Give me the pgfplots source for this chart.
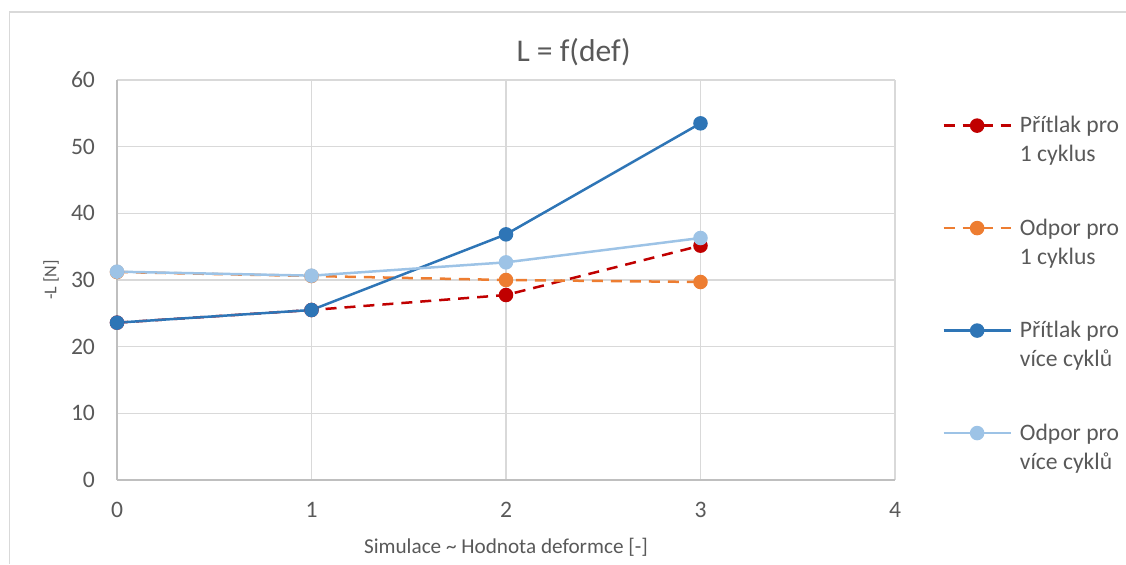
\documentclass[border=0pt]{standalone}
\usepackage{fontspec}
\setmainfont{Carlito}
\usepackage{pgfplots}
\pgfplotsset{compat=1.18}
\definecolor{cRed}{HTML}{C00000}
\definecolor{cOrange}{HTML}{ED7D31}
\definecolor{cBlue}{HTML}{2E75B6}
\definecolor{cLBlue}{HTML}{9DC3E6}
\definecolor{cGrid}{HTML}{D9D9D9}
\definecolor{cAxis}{HTML}{BFBFBF}
\definecolor{cText}{HTML}{595959}
\begin{document}
\begin{tikzpicture}
\useasboundingbox (0,0) rectangle (563pt,282pt);
\draw[cGrid, line width=0.6pt] (4.75pt,0) -- (4.75pt,276pt) -- (563pt,276pt);
\begin{axis}[
  at={(58.5pt,42pt)}, anchor=south west,
  scale only axis, width=389pt, height=200pt,
  xmin=0, xmax=4, ymin=0, ymax=60,
  xtick={0,1,2,3,4}, ytick={0,10,20,30,40,50,60},
  grid=major, major grid style={cGrid, line width=0.75pt},
  axis x line*=bottom, axis y line*=left,
  axis line style={-, cAxis, line width=0.75pt},
  major tick length=0pt,
  /pgf/number format/assume math mode=true,
  tick label style={font=\fontsize{11.8}{14}\selectfont, text=cText},
  xticklabel style={yshift=-7.5pt},
  yticklabel style={xshift=-7.5pt},
  xlabel={Simulace \textasciitilde{} Hodnota deformce [-]},
  xlabel style={at={(axis description cs:0.5,0)}, anchor=center, yshift=-33.5pt, font=\fontsize{10.6}{12}\selectfont, text=cText},
  ylabel={-L [N]},
  ylabel style={at={(axis description cs:-0.0848,0.5)}, anchor=center, font=\fontsize{9}{11}\selectfont, text=cText},
  title={L = f(def)},
  title style={at={(axis description cs:0.587,1.06)}, anchor=center, yshift=-4pt, font=\fontsize{15.8}{18}\selectfont, text=cText},
  legend style={at={(axis description cs:1.0527,0.93)}, anchor=north west, draw=none, fill=none,
    font=\fontsize{11.8}{14.5}\selectfont, text=cText, row sep=23.05pt, cells={align=left}},
  legend cell align=left,
  legend image code/.code={\draw[mark repeat=2,mark phase=2,#1] plot coordinates {(0pt,7.5pt)(16.75pt,7.5pt)(33.5pt,7.5pt)};
    \path (35.5pt,7.5pt);},
]
\addplot[cRed, line width=1.25pt, dash pattern=on 5.5pt off 4pt, mark=*, mark size=3pt, mark options={solid, fill=cRed, draw=cRed}]
  coordinates {(0,23.6)(1,25.5)(2,27.75)(3,35.15)};
\addlegendentry{Přítlak pro\\1 cyklus}
\addplot[cOrange, line width=1.25pt, dash pattern=on 5.5pt off 4pt, mark=*, mark size=3pt, mark options={solid, fill=cOrange, draw=cOrange}]
  coordinates {(0,31.2)(1,30.6)(2,30.0)(3,29.7)};
\addlegendentry{Odpor pro\\1 cyklus}
\addplot[cBlue, line width=1.25pt, mark=*, mark size=3pt, mark options={solid, fill=cBlue, draw=cBlue}]
  coordinates {(0,23.6)(1,25.5)(2,36.85)(3,53.5)};
\addlegendentry{Přítlak pro\\více cyklů}
\addplot[cLBlue, line width=1.25pt, mark=*, mark size=3pt, mark options={solid, fill=cLBlue, draw=cLBlue}]
  coordinates {(0,31.25)(1,30.65)(2,32.65)(3,36.3)};
\addlegendentry{Odpor pro\\více cyklů}
\end{axis}
\end{tikzpicture}
\end{document}
